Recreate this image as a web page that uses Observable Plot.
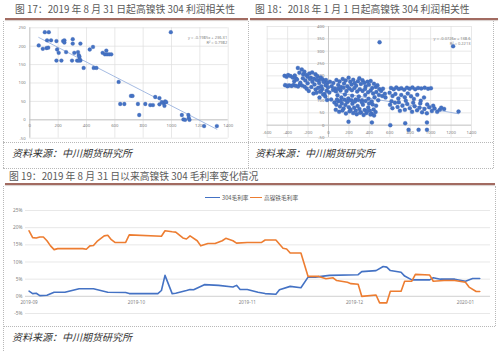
<!DOCTYPE html>
<html><head><meta charset="utf-8">
<script src="https://cdn.jsdelivr.net/npm/d3@7"></script>
<script src="https://cdn.jsdelivr.net/npm/@observablehq/plot@0.6"></script>
<style>
body{margin:0;width:500px;height:355px;background:#fff;position:relative;overflow:hidden;font-family:"Noto Sans CJK SC","Noto Sans",sans-serif;}
.abs{position:absolute;}
.title{font-size:9.8px;color:#5a5a5a;white-space:nowrap;line-height:12px;}
.rule{height:2px;background:#a26b61;box-shadow:0 1px 1px #d8cfcd;}
.cap{font-size:10px;font-style:italic;color:#333;white-space:nowrap;line-height:12px;}
.dh{border-top:1px dotted #b8b8b8;height:0;}
.dv{border-left:1px dotted #b8b8b8;width:0;}
.leg{font-size:5.7px;color:#595959;white-space:nowrap;line-height:7px;}
.sw{height:1.6px;}
</style></head><body>
<div class="abs title" style="left:15px;top:3px">图 17：2019 年 8 月 31 日起高镍铁 304 利润相关性</div>
<div class="abs title" style="left:255px;top:3px">图 18：2018 年 1 月 1 日起高镍铁 304 利润相关性</div>
<div class="abs rule" style="left:5px;top:18px;width:243px"></div>
<div class="abs rule" style="left:250px;top:18px;width:248px"></div>
<div class="abs dv" style="left:3px;top:21px;height:147px"></div>
<div class="abs dv" style="left:248px;top:21px;height:147px"></div>
<div class="abs dv" style="left:493px;top:21px;height:147px"></div>
<div class="abs dh" style="left:3px;top:142px;width:490px"></div>
<div class="abs dh" style="left:3px;top:168px;width:490px"></div>
<div id="p17" class="abs" style="left:0;top:20px"></div>
<div id="p18" class="abs" style="left:250px;top:20px"></div>
<div class="abs cap" style="left:12px;top:147px">资料来源：中川期货研究所</div>
<div class="abs cap" style="left:255px;top:147px">资料来源：中川期货研究所</div>
<div class="abs title" style="left:9px;top:170px">图 19：2019 年 8 月 31 日以来高镍铁 304 毛利率变化情况</div>
<div class="abs rule" style="left:5px;top:183px;width:490px"></div>
<div class="abs dv" style="left:3px;top:186px;height:165px"></div>
<div class="abs dv" style="left:495px;top:186px;height:140px"></div>
<div class="abs dh" style="left:3px;top:326px;width:492px"></div>
<div id="p19" class="abs" style="left:0;top:186px"></div>
<div id="legend"></div>
<div class="abs cap" style="left:12px;top:331px">资料来源：中川期货研究所</div>
<script>
// ---------- Figure 17 data (x, y) ----------
const scatter17 = [[106,238],[134,238],[122,216],[150,216],[63,202],[92,193],[118,195],[130,196],[188,214],[193,191],[204,182],[188,161],[223,161],[235,214],[244,216],[244,210],[256,184],[303,219],[303,207],[298,161],[334,161],[314,182],[340,184],[345,176],[350,172],[352,165],[357,161],[345,161],[357,207],[380,141],[423,191],[446,198],[451,141],[470,141],[514,182],[530,178],[545,178],[560,178],[575,178],[540,188],[627,103],[638,43],[667,43],[714,65],[725,65],[763,43],[772,13],[815,43],[850,40],[869,40],[885,62],[915,59],[915,42],[932,48],[945,45],[955,50],[962,48],[950,38],[995,238],[1073,13],[1084,1],[1096,0],[1119,13],[1122,5],[1127,0],[1230,-17],[1320,-17]];
const ticks17X = [0,200,400,600,800,1000,1200,1400];
const ticks17Y = [-50,0,50,100,150,200,250];
const trend17 = [-0.1985, 236.31];
const eq17 = ["y = -0.1985x + 236.31", "R² = 0.7982"];

// ---------- Figure 18 data (x, y) ----------
const scatter18 = [
[-430,200],[-410,196],[-395,203],[-372,199],[-350,193],[-330,201],[-318,189],[-300,232],[-285,213],[-262,226],[-248,206],[-236,217],[-219,203],[-205,196],[-188,209],[-172,192],[-160,214],[-141,188],[-127,206],[-109,198],[-94,182],[-76,193],[-58,186],[-43,176],[-25,183],[-12,171],
[-425,162],[-402,158],[-384,161],[-361,159],[-343,163],[-322,160],[-298,157],[-281,165],[-259,161],[-233,156],[-214,148],[-193,139],[-168,155],[-147,128],[-126,145],[-101,152],[-83,135],[-62,147],[-38,126],[-17,140],
[-335,178],[-308,185],[-276,172],[-251,190],[-227,181],[-204,170],[-182,187],[-158,176],[-137,165],[-115,183],[-92,171],[-71,158],[-49,176],[-28,162],[-5,154],
[-118,131],[-74,137],[-52,124],[-31,116],[-14,102],[8,132],[26,104],[-88,112],
[14,176],[31,158],[47,171],[63,149],[78,183],[95,163],[108,177],[123,155],[139,187],[152,169],[168,181],[184,158],[197,192],[213,176],[226,165],[242,184],[257,171],[271,160],[288,178],[302,190],[317,167],[333,182],[349,172],[364,158],[381,176],[396,164],[413,179],[428,151],[445,168],[463,155],[479,162],[497,147],[515,139],[533,148],[552,127],
[44,144],[72,137],[96,148],[118,141],[147,152],[176,139],[203,149],[229,142],[254,151],[281,136],[306,146],[334,139],[358,147],[387,133],[412,141],[437,128],[468,134],[494,122],[526,118],[558,112],
[88,121],[126,112],[161,124],[194,108],[232,119],[266,104],[297,116],[328,101],[359,122],[392,107],[423,96],[451,113],[487,101],
[58,92],[77,83],[96,97],[112,76],[131,88],[148,68],[166,82],[183,94],[199,73],[217,63],[234,87],[251,71],[268,58],[285,78],[303,66],[318,52],[337,83],[354,61],[372,49],[389,72],[406,58],[424,46],[442,64],[461,53],
[71,62],[104,54],[137,59],[171,47],[206,56],[241,49],[276,44],[309,50],[344,41],[377,57],[411,43],[446,39],
[83,104],[121,99],[157,103],[189,97],[224,101],[259,96],[292,102],[326,93],[363,98],[397,88],[432,84],[466,79],
[612,151],[638,146],[664,153],[689,147],[713,150],[741,144],[768,152],[794,148],[822,153],[849,146],[877,151],[908,149],[942,152],[975,148],[1003,150],
[598,131],[627,118],[655,126],[684,108],[712,122],[747,113],[776,128],[808,117],[836,106],[869,123],[903,99],[935,112],
[603,83],[626,69],[651,91],[676,74],[699,58],[724,79],[748,62],[771,86],[796,69],[818,54],[843,77],[867,60],[891,71],[916,52],[939,66],[963,48],[987,73],[1012,57],[1038,68],[1064,54],[1089,62],
[617,97],[688,93],[757,99],[829,91],[898,88],[966,84],[1025,79],
[1132,66],[1273,55],[1104,71],
[196,14],[425,11],[605,0],[751,8],[784,-19],[882,-19],[964,-19],[964,11],
[500,336],[1220,320]];
const ticks18X = [-600,-400,-200,0,200,400,600,800,1000,1200,1400];
const ticks18Y = [-50,0,50,100,150,200,250,300,350,400];
const trend18 = [-0.0726, 138.6];
const eq18 = ["y = -0.0726x + 138.6", "R² = 0.2213"];

// ---------- Figure 19 data ----------
const dates304 = ["2019-09-01","2019-09-02","2019-09-03","2019-09-04","2019-09-06","2019-09-08","2019-09-11","2019-09-15","2019-09-19","2019-09-23","2019-09-28","2019-09-29","2019-10-07","2019-10-08","2019-10-09","2019-10-11","2019-10-12","2019-10-15","2019-10-16","2019-10-17","2019-10-20","2019-10-24","2019-10-28","2019-10-29","2019-10-30","2019-11-01","2019-11-04","2019-11-06","2019-11-09","2019-11-10","2019-11-13","2019-11-16","2019-11-18","2019-11-20","2019-11-24","2019-12-02","2019-12-03","2019-12-07","2019-12-09","2019-12-10","2019-12-11","2019-12-14","2019-12-15","2019-12-17","2019-12-22","2019-12-23","2019-12-25","2019-12-29","2020-01-01","2020-01-03","2020-01-05"];
const margin304 = [1.5,0.8,0.9,0.2,0.3,1.2,1.2,2.2,2.2,1.2,1.1,0.8,0.8,1.7,6.1,0.8,0.9,1.7,2.0,1.9,3.4,3.2,2.7,3.2,2.0,2.0,1.2,0.8,0.6,1.9,2.9,2.5,5.6,5.6,6.1,6.3,7.2,7.5,8.7,8.5,7.5,7.0,5.9,4.8,4.8,5.4,5.0,5.0,4.4,5.2,5.2];
const datesNPI = ["2019-09-01","2019-09-02","2019-09-03","2019-09-04","2019-09-05","2019-09-06","2019-09-07","2019-09-08","2019-09-09","2019-09-16","2019-09-17","2019-09-18","2019-09-19","2019-09-20","2019-09-22","2019-09-23","2019-09-24","2019-09-25","2019-09-28","2019-09-29","2019-10-08","2019-10-09","2019-10-11","2019-10-12","2019-10-14","2019-10-15","2019-10-16","2019-10-18","2019-10-19","2019-10-21","2019-10-23","2019-10-25","2019-10-26","2019-10-28","2019-10-29","2019-11-01","2019-11-05","2019-11-06","2019-11-09","2019-11-11","2019-11-12","2019-11-13","2019-11-16","2019-11-18","2019-11-21","2019-11-23","2019-11-25","2019-11-26","2019-11-29","2019-11-30","2019-12-02","2019-12-03","2019-12-07","2019-12-08","2019-12-10","2019-12-11","2019-12-14","2019-12-15","2019-12-17","2019-12-18","2019-12-22","2019-12-23","2019-12-26","2019-12-29","2020-01-01","2020-01-02","2020-01-04","2020-01-05"];
const marginNPI = [19.1,17.1,17.0,17.3,17.3,16.2,14.7,13.6,13.9,13.9,13.7,14.7,14.8,16.0,17.6,17.8,16.5,15.7,15.7,17.9,17.5,19.1,18.8,18.7,17.0,16.7,17.6,16.2,14.7,15.4,15.4,16.2,16.9,16.2,15.5,15.7,15.7,16.4,16.4,14.0,13.8,12.6,12.6,5.8,5.8,5.1,5.4,4.6,4.1,3.7,3.5,0.0,0.4,-1.9,-1.9,1.5,1.5,4.4,4.4,6.4,6.2,4.4,4.6,4.6,4.1,2.7,1.4,1.4];
const ticks19Y = [-5,0,5,10,15,20,25];
const ticks19X = ["2019-09-01","2019-10-01","2019-11-01","2019-12-01","2020-01-01"];
const ticks19XLabels = ["2019-09","2019-10","2019-11","2019-12","2020-01"];
const seriesNames = ["304毛利率","高镍铁毛利率"];
const seriesColors = ["#4472c4","#ed7d31"];

const axisFont = "'Noto Sans', sans-serif";

function scatter(o) {
  const xs = o.data.map(d => d[0]);
  const xmin = d3.min(xs), xmax = d3.max(xs);
  const trendPts = [xmin, xmax].map(x => ({x, y: o.trend[0] * x + o.trend[1]}));
  return Plot.plot({
    width: o.width, height: o.height,
    marginLeft: o.ml, marginRight: o.mr, marginTop: o.mt, marginBottom: o.mb,
    x: {domain: o.xd, axis: null},
    y: {domain: o.yd, axis: null},
    style: {fontFamily: axisFont, background: "transparent", overflow: "visible"},
    marks: [
      Plot.ruleX(o.xt, {stroke: "#dedede", strokeWidth: 0.7}),
      Plot.ruleY(o.yt, {stroke: "#dedede", strokeWidth: 0.7}),
      Plot.ruleY([0], {stroke: "#bfbfbf", strokeWidth: 0.8}),
      Plot.ruleX([0], {stroke: "#bfbfbf", strokeWidth: 0.8}),
      Plot.text(o.xt, {x: d => d, y: () => 0, dy: o.xdy, text: d => String(d), fill: "#7f7f7f", fontSize: 4.3}),
      Plot.text(o.yt, {x: () => 0, y: d => d, dx: -4, textAnchor: "end", text: d => String(d), fill: "#7f7f7f", fontSize: 4.3}),
      Plot.line(trendPts, {x: "x", y: "y", stroke: "#8eaadb", strokeWidth: 0.8}),
      Plot.dot(o.data, {x: d => d[0], y: d => d[1], r: o.r, fill: "#4472c4", stroke: "#3f66b0", strokeWidth: 0.3}),
      Plot.text([o.eq.join("\n")], {frameAnchor: "top-right", dx: -1, dy: o.eqdy, textAnchor: "end", lineAnchor: "top", lineHeight: 1.3, fill: "#7f7f7f", fontSize: 4})
    ]
  });
}

document.getElementById("p17").append(scatter({
  data: scatter17, xd: [0, 1400], yd: [-50, 250], xt: ticks17X, yt: ticks17Y,
  width: 248, height: 125, ml: 29.3, mr: 20.3, mt: 7.3, mb: 7.3, xdy: 6, r: 1.9,
  trend: trend17, eq: eq17, eqdy: 7
}));
document.getElementById("p18").append(scatter({
  data: scatter18, xd: [-600, 1400], yd: [-50, 400], xt: ticks18X, yt: ticks18Y,
  width: 245, height: 125, ml: 16.7, mr: 24, mt: 6, mb: 8, xdy: 7.5, r: 2,
  trend: trend18, eq: eq18, eqdy: 10
}));

const rows = [];
dates304.forEach((d, i) => rows.push({date: new Date(d + "T00:00"), v: margin304[i], s: seriesNames[0]}));
datesNPI.forEach((d, i) => rows.push({date: new Date(d + "T00:00"), v: marginNPI[i], s: seriesNames[1]}));
const tickDates = ticks19X.map(d => new Date(d + "T00:00"));

document.getElementById("p19").append(Plot.plot({
  width: 500, height: 140,
  marginLeft: 25, marginRight: 10, marginTop: 24, marginBottom: 13,
  x: {type: "time", domain: [new Date("2019-08-31T00:00"), new Date("2020-01-08T00:00")], axis: null},
  y: {domain: [-5, 25], axis: null},
  color: {domain: seriesNames, range: seriesColors},
  style: {fontFamily: axisFont, background: "transparent", overflow: "visible"},
  marks: [
    Plot.ruleY(ticks19Y, {stroke: "#dedede", strokeWidth: 0.7}),
    Plot.ruleY([0], {stroke: "#d0d0d0", strokeWidth: 0.8}),
    Plot.axisY(ticks19Y, {label: null, tickSize: 0, tickPadding: 3, tickFormat: d => d + "%", fill: "#7f7f7f", fontSize: 4.8}),
    Plot.text(tickDates, {x: d => d, y: () => 0, dy: 6.5, text: (d, i) => ticks19XLabels[i], fill: "#7f7f7f", fontSize: 4.6}),
    Plot.line(rows, {x: "date", y: "v", z: "s", stroke: "s", strokeWidth: 1.6, curve: "linear"})
  ]
}));

// legend
const leg = document.getElementById("legend");
const legPos = [[205, 15, 222], [250, 12, 264]];
seriesNames.forEach((name, i) => {
  const sw = document.createElement("div");
  sw.className = "abs sw";
  sw.style.cssText = `left:${legPos[i][0]}px;top:196.5px;width:${legPos[i][1]}px;background:${seriesColors[i]}`;
  const t = document.createElement("div");
  t.className = "abs leg";
  t.style.cssText = `left:${legPos[i][2]}px;top:193.5px`;
  t.textContent = name;
  leg.append(sw, t);
});
</script>
</body></html>
